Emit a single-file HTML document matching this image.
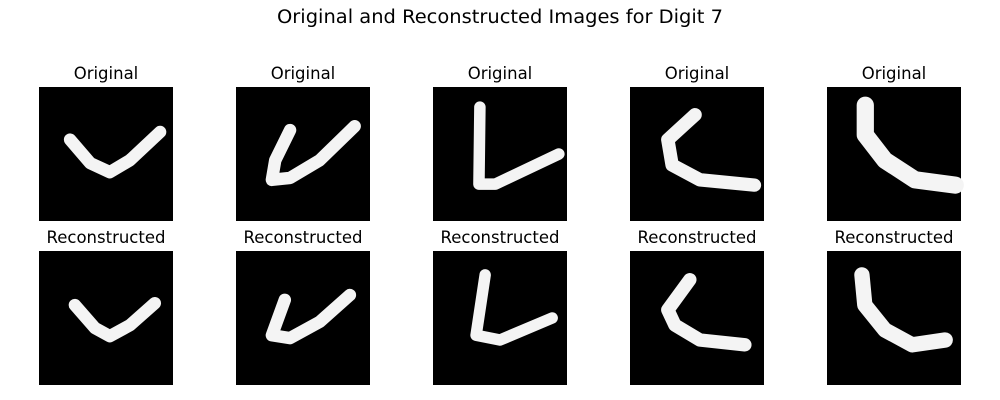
<!DOCTYPE html>
<html><head><meta charset="utf-8"><style>
body{margin:0;background:#fff;}
svg{display:block;font-family:"DejaVu Sans","Liberation Sans",sans-serif;}
</style></head><body>
<svg id="fig" width="1000" height="400" viewBox="0 0 1000 400" xmlns="http://www.w3.org/2000/svg">
<text x="500" y="23" text-anchor="middle" font-size="18.5" fill="#000" textLength="446" lengthAdjust="spacingAndGlyphs">Original and Reconstructed Images for Digit 7</text>
<g id="panels"></g>
</svg>
<script>
const panelX = [39, 236, 433, 630, 827];
const rowY = [87, 251];
const rowTitles = ["Original", "Reconstructed"];
// stroke point sequences in 28x28 pixel grid coordinates
const originalStrokes = [
  [[6.5,11],[10.7,15.9],[14.8,17.8],[19,15.3],[25.3,9.4]],
  [[11.3,9],[8.2,15.3],[7.5,19.4],[11.3,19],[17.5,15.3],[24.8,8.2]],
  [[9.8,4.2],[9.6,20.3],[13,20.3],[26.3,14]],
  [[13.6,5.8],[7.9,11],[8.8,16.3],[14.6,19.4],[26,20.5]],
  [[8,3.8],[8,10],[12.1,15.3],[18.4,19.4],[26.8,20.5]]
];
const reconStrokes = [
  [[7.5,11.3],[11.7,16.1],[14.8,17.8],[19,15.5],[24.2,10.9]],
  [[10.2,10.2],[7.5,17.6],[11.3,18.2],[17.5,14.8],[23.8,9.2]],
  [[10.9,5],[9,17.6],[14,18.6],[24.9,14]],
  [[12.5,6],[7.9,12.3],[9.4,15.5],[14.6,18.6],[24,19.6]],
  [[7.3,5],[7.9,11.3],[12.1,16.5],[17.8,19.6],[24.7,18.6]]
];
const strokeWidths = [[2.6,2.6,2.4,2.8,3.6],[2.6,2.6,2.4,2.8,3.2]];
const NS = "http://www.w3.org/2000/svg";
const g = document.getElementById("panels");
const size = 134, grid = 28, sc = size / grid;
[originalStrokes, reconStrokes].forEach((rows, r) => {
  rows.forEach((pts, i) => {
    const x0 = panelX[i], y0 = rowY[r];
    const t = document.createElementNS(NS, "text");
    
    
    t.setAttribute("x", x0 + size / 2);
    t.setAttribute("y", y0 - 8);
    t.setAttribute("text-anchor", "middle");
    t.setAttribute("font-size", "16.5");
    t.textContent = rowTitles[r];
    g.appendChild(t);
    const bg = document.createElementNS(NS, "rect");
    
    
    bg.setAttribute("x", x0); bg.setAttribute("y", y0);
    bg.setAttribute("width", size); bg.setAttribute("height", size);
    bg.setAttribute("fill", "#000");
    g.appendChild(bg);
    const pl = document.createElementNS(NS, "polyline");
    
    
    pl.setAttribute("points", pts.map(p => (x0 + p[0] * sc) + "," + (y0 + p[1] * sc)).join(" "));
    pl.setAttribute("fill", "none");
    pl.setAttribute("stroke", "#f4f4f4");
    pl.setAttribute("stroke-width", strokeWidths[r][i] * sc);
    pl.setAttribute("stroke-linecap", "round");
    pl.setAttribute("stroke-linejoin", "round");
    g.appendChild(pl);
  });
});
</script>
</body></html>
